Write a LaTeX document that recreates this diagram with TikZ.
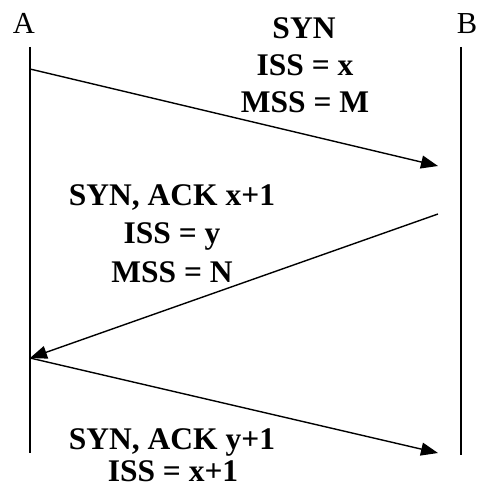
\documentclass[tikz,border=0pt]{standalone}
\usepackage{fontspec}
\setmainfont{Liberation Serif}
\usetikzlibrary{arrows.meta}
\begin{document}
\begin{tikzpicture}[x=1pt,y=-1pt,
  lbl/.style={font=\fontsize{30.5}{36}\selectfont, inner sep=0pt, anchor=base},
  msg/.style={font=\bfseries\fontsize{31.5}{37}\selectfont, inner sep=0pt, anchor=base},
  life/.style={line width=2pt},
  arr/.style={line width=1.4pt, -{Triangle[length=17pt,width=13pt]}}]
\useasboundingbox (0,0) rectangle (479,487);
\node[lbl] (A) at (24,34) {A};
\node[lbl] (B) at (467,34) {B};
\coordinate (a0) at (30,47);
\coordinate (a1) at (30,453);
\coordinate (b0) at (461,47);
\coordinate (b1) at (461,455);
\draw[life] (a0) -- (a1);
\draw[life] (b0) -- (b1);
\coordinate (p1) at (30,69);
\coordinate (q1) at (438,166);
\coordinate (q2) at (438,214);
\coordinate (p2) at (30,358);
\coordinate (q3) at (438,453);
\draw[arr] (p1) -- (q1);
\draw[arr] (q2) -- (p2);
\draw[arr] (p2) -- (q3);
\node[msg] (m1a) at (304,38) {SYN};
\node[msg] (m1b) at (305,75) {ISS = x};
\node[msg] (m1c) at (305,112) {MSS = M};
\node[msg] (m2a) at (172,205) {SYN, ACK x+1};
\node[msg] (m2b) at (172,243) {ISS = y};
\node[msg] (m2c) at (172,282) {MSS = N};
\node[msg] (m3a) at (172,449) {SYN, ACK y+1};
\node[msg] (m3b) at (173,481) {ISS = x+1};
\end{tikzpicture}
\end{document}
